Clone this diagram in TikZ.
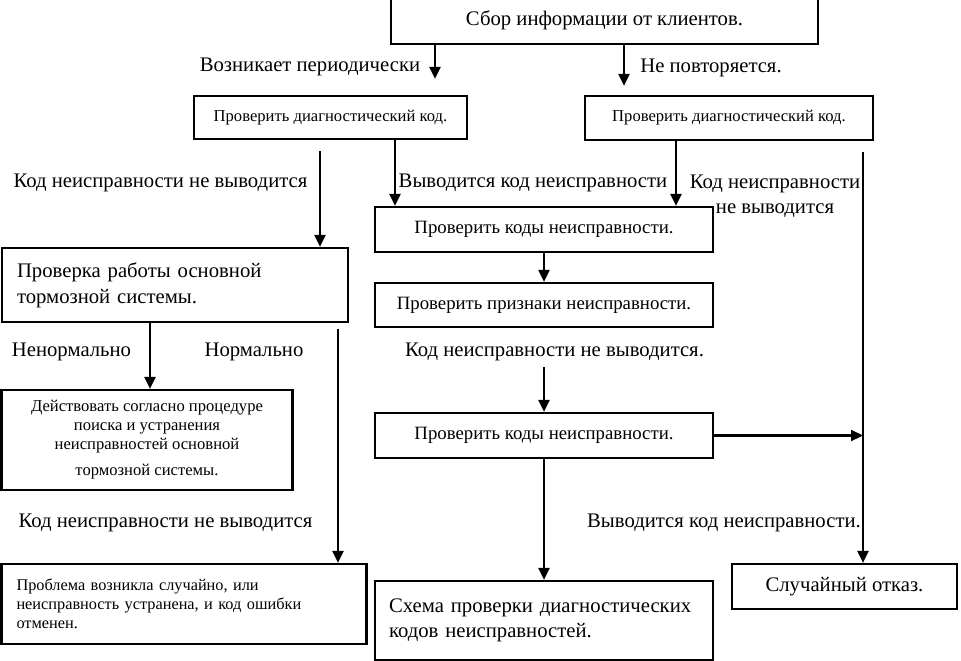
\documentclass[tikz,border=0pt]{standalone}
\usepackage{fontspec}
\setmainfont{Liberation Serif}
\usetikzlibrary{arrows.meta}

\begin{document}
\begin{tikzpicture}[x=1pt,y=-1pt,
  box/.style={rectangle,draw,line width=2.2pt,inner sep=0pt},
  big/.style={font=\fontsize{20.7}{24}\selectfont},
  mid/.style={font=\fontsize{18.8}{22}\selectfont},
  small/.style={font=\fontsize{16.6}{19}\selectfont},
  arr/.style={line width=2.2pt,-{Triangle[width=11pt,length=12pt]}}]
  \useasboundingbox (0,0) rectangle (961,661);
  % boxes
  \node[box,big,minimum width=427pt,minimum height=47pt] (info) at (604.5,20.5) {Сбор информации от клиентов.};
  \node[box,small,minimum width=273pt,minimum height=43pt] (diagL) at (330.5,117.5) {Проверить диагностический код.};
  \node[box,small,minimum width=288pt,minimum height=44pt] (diagR) at (729,118) {Проверить диагностический код.};
  \node[box,mid,minimum width=338pt,minimum height=45pt] (codesA) at (544,229.5) {Проверить коды неисправности.};
  \node[box,mid,minimum width=338pt,minimum height=44pt] (signs) at (544,305) {Проверить признаки неисправности.};
  \node[box,mid,minimum width=338pt,minimum height=45pt] (codesB) at (544,435.5) {Проверить коды неисправности.};
  \node[box,minimum width=338pt,minimum height=79pt,text width=310pt,align=left,
    font=\fontsize{20.7}{25}\selectfont] (scheme) at (544,620.5)
    {Схема проверки диагностических\\кодов неисправностей.};
  \node[box,big,minimum width=225pt,minimum height=45pt] (random) at (844.5,586.5) {Случайный отказ.};
  \node[box,minimum width=346pt,minimum height=74pt,text width=316pt,align=left,
    font=\fontsize{20.7}{26}\selectfont] (brake) at (175,285)
    {Проверка работы основной\\тормозной системы.};
  \node[box,minimum width=291pt,minimum height=100pt,align=center,
    font=\fontsize{16.6}{19}\selectfont] (proc) at (147,440)
    {Действовать согласно процедуре\\поиска и устранения\\неисправностей основной\\[7pt]тормозной системы.};
  \node[box,minimum width=365pt,minimum height=80pt,text width=335pt,align=left,
    font=\fontsize{16.3}{19}\selectfont] (fixed) at (184,604)
    {Проблема возникла случайно, или\\неисправность устранена, и код ошибки\\отменен.};
  % labels
  \node[big] (lperiod) at (310,67) {Возникает периодически};
  \node[big] (lonce) at (711,68) {Не повторяется.};
  \node[big] (lnoneA) at (160.5,183) {Код неисправности не выводится};
  \node[big] (lcodeA) at (533,183) {Выводится код неисправности};
  \node[big,align=center,font=\fontsize{20.7}{25}\selectfont] (lnoneB) at (775,196) {Код неисправности\\не выводится};
  \node[big] (labn) at (71.5,352) {Ненормально};
  \node[big] (lnorm) at (254,352) {Нормально};
  \node[big] (lnoneC) at (554.5,352) {Код неисправности не выводится.};
  \node[big] (lnoneD) at (165.5,523) {Код неисправности не выводится};
  \node[big] (lcodeB) at (724,523) {Выводится код неисправности.};
  % connectors
  \coordinate (xa) at (435,0);
  \coordinate (xb) at (624,0);
  \coordinate (xc) at (395,0);
  \coordinate (xd) at (320,0);
  \coordinate (xe) at (676,0);
  \coordinate (xf) at (863,0);
  \coordinate (xg) at (150,0);
  \coordinate (xh) at (338,0);
  \draw[arr,shorten >=16pt] (info.south -| xa) -- (diagL.north -| xa);
  \draw[arr,shorten >=9pt] (info.south -| xb) -- (diagR.north -| xb);
  \draw[arr] (diagL.south -| xc) -- (codesA.north -| xc);
  \draw[arr,shorten <=11pt] (diagL.south -| xd) -- (brake.north -| xd);
  \draw[arr] (diagR.south -| xe) -- (codesA.north -| xe);
  \draw[arr,shorten <=11pt] (diagR.south -| xf) -- (random.north -| xf);
  \draw[arr] (codesA) -- (signs);
  \draw[arr,shorten <=39pt] (signs) -- (codesB);
  \draw[arr] (codesB) -- (scheme);
  \draw[arr] (codesB.east) -- (codesB.east -| xf);
  \draw[arr] (brake.south -| xg) -- (proc.north -| xg);
  \draw[arr,shorten <=6pt] (brake.south -| xh) -- (fixed.north -| xh);
\end{tikzpicture}
\end{document}
